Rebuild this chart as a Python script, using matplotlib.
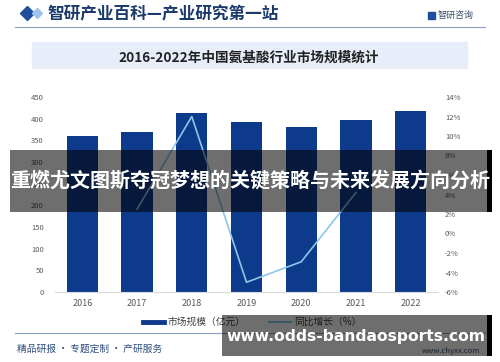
import matplotlib
matplotlib.use('Agg')
import matplotlib.pyplot as plt
from matplotlib.patches import Rectangle
from matplotlib.lines import Line2D
import numpy as np

plt.rcParams['font.family'] = ['Noto Sans CJK SC', 'DejaVu Sans']

years = ['2016', '2017', '2018', '2019', '2020', '2021', '2022']
market = [359, 369, 412, 392, 381, 397, 418]          # 亿元
growth_years = ['2017', '2018', '2019', '2020', '2021']
growth = [2.5, 12.0, -5.0, -2.9, 4.2]                 # %

W, H = 500, 362
fig = plt.figure(figsize=(W / 100, H / 100), dpi=100)


def fx(px):
    return px / W


def fy(py):
    return 1 - py / H


bar_color = '#0e3a8c'
line_color = '#8cc6ea'

# main axes
ax = fig.add_axes([fx(55), fy(292), fx(438) - fx(55), (292 - 97) / H])
x = np.arange(len(years))
ax.bar(x, market, width=0.57, color=bar_color, zorder=2)
ax.set_xlim(-0.5, len(years) - 0.5)
ax.set_ylim(0, 450)
ax.set_yticks(np.arange(0, 451, 50))
ax.set_xticks(x)
ax.set_xticklabels(years)
ax.tick_params(axis='y', length=0, labelsize=5.5, colors='#595959', pad=8)
ax.tick_params(axis='x', length=0, labelsize=6.5, colors='#595959', pad=5)
for s in ['top', 'right', 'left']:
    ax.spines[s].set_visible(False)
ax.spines['bottom'].set_color('#d9d9d9')

ax2 = ax.twinx()
gx = [years.index(y) for y in growth_years]
ax2.plot(gx, growth, color=line_color, linewidth=1.2, zorder=3)
ax2.set_ylim(-6, 14)
ax2.set_yticks(np.arange(-6, 15, 2))
ax2.set_yticklabels([f'{v}%' for v in range(-6, 15, 2)])
ax2.tick_params(axis='y', length=0, labelsize=5.5, colors='#595959', pad=5)
for s in ['top', 'right', 'left', 'bottom']:
    ax2.spines[s].set_visible(False)

# legend
handles = [Line2D([], [], color=bar_color, linewidth=3.5),
           Line2D([], [], color=line_color, linewidth=1.5)]
fig.legend(handles, ['市场规模（亿元）', '同比增长（%）'], loc='center',
           bbox_to_anchor=(fx(252), fy(322)), ncol=2, frameon=False,
           fontsize=7, handlelength=2.2, handletextpad=0.3, columnspacing=2.5,
           labelcolor='#404040')

# header
fig.lines.append(Line2D([fx(15), fx(485)], [fy(27), fy(27)], color='#8aa0c0',
                        linewidth=0.8, transform=fig.transFigure))
fig.lines.append(Line2D([fx(27)], [fy(13)], marker='D', markersize=7,
                        color='#1f4e9c', transform=fig.transFigure))
fig.lines.append(Line2D([fx(37)], [fy(13)], marker='D', markersize=5,
                        color='#9fc3ea', transform=fig.transFigure))
fig.text(fx(47), fy(14), '智研产业百科—产业研究第一站', fontsize=12,
         fontweight='bold', color='#1b3a6b', va='center', ha='left')
fig.patches.append(Rectangle((fx(428), fy(19)), fx(7), 7 / H, color='#1f4e9c',
                             transform=fig.transFigure))
fig.text(fx(438), fy(15.5), '智研咨询', fontsize=6.5, color='#3a4e6e',
         va='center', ha='left')

# title box
fig.patches.append(Rectangle((fx(32), fy(68)), fx(467) - fx(32), 26 / H,
                             color='#e7eefa', transform=fig.transFigure, zorder=0))
fig.text(fx(249), fy(58), '2016-2022年中国氨基酸行业市场规模统计', fontsize=9.8,
         fontweight='bold', color='#222222', va='center', ha='center')

# footer
fig.lines.append(Line2D([fx(15), fx(485)], [fy(333), fy(333)], color='#8aa0c0',
                        linewidth=0.8, transform=fig.transFigure))
fig.text(fx(17), fy(349), '精品研报 · 专题定制 · 产研服务', fontsize=7,
         color='#2f4f7f', va='center', ha='left')
fig.text(fx(480), fy(351), 'www.chyxx.com', fontsize=5.5, color='#3a4e6e',
         va='center', ha='right')

# overlay banners
fig.patches.append(Rectangle((fx(10), fy(212)), fx(490) - fx(10), 62 / H,
                             facecolor='black', alpha=0.57, edgecolor='none',
                             transform=fig.transFigure, zorder=10))
fig.patches.append(Rectangle((fx(487), fy(212)), fx(5), 62 / H,
                             facecolor='black', edgecolor='none',
                             transform=fig.transFigure, zorder=10))
fig.text(fx(250), fy(181), '重燃尤文图斯夺冠梦想的关键策略与未来发展方向分析',
         fontsize=14.4, fontweight='bold', color='white', va='center',
         ha='center', zorder=11)

fig.patches.append(Rectangle((fx(222), fy(356)), fx(490) - fx(222), 41 / H,
                             facecolor='black', alpha=0.57, edgecolor='none',
                             transform=fig.transFigure, zorder=10))
fig.patches.append(Rectangle((fx(487), fy(356)), fx(5), 41 / H,
                             facecolor='black', edgecolor='none',
                             transform=fig.transFigure, zorder=10))
fig.text(fx(356), fy(336), 'www.odds-bandaosports.com', fontsize=11.2,
         fontweight='bold', color='white', va='center', ha='center',
         family='DejaVu Sans', zorder=11)

fig.savefig('out.png', dpi=100)
